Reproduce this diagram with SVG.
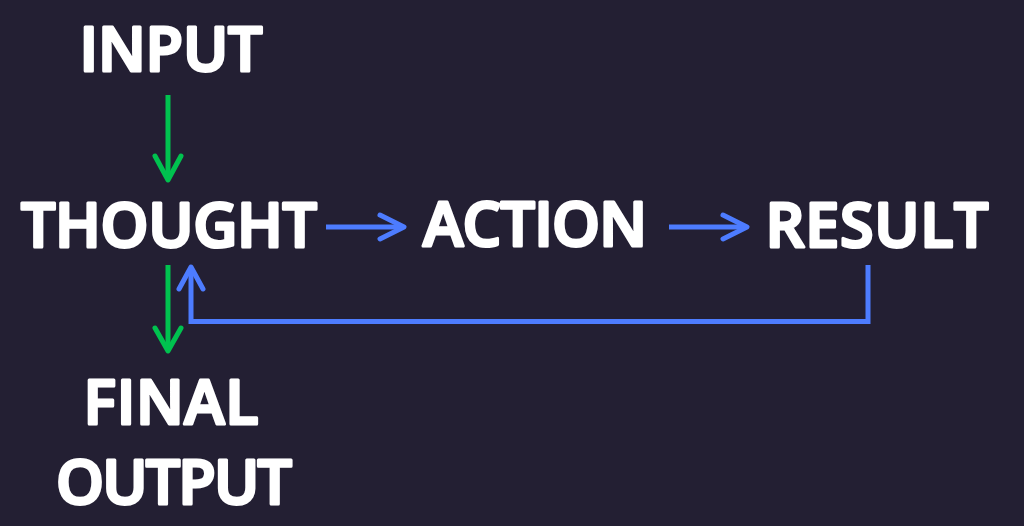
<svg xmlns="http://www.w3.org/2000/svg" width="1024" height="526" viewBox="0 0 1024 526">
<style>
.lbl{font-family:"Open Sans","DejaVu Sans",sans-serif;font-weight:600;font-size:61px;fill:#ffffff;stroke:#ffffff;stroke-width:3;stroke-linejoin:round;text-anchor:middle}
.g{stroke:#00c24f;stroke-width:5;fill:none}
.b{stroke:#4d7cff;stroke-width:5;fill:none}
.head{stroke-linecap:round;stroke-linejoin:round}
</style>
<rect width="1024" height="526" fill="#231f33"/>
<g id="connectors">
<g id="input-thought"><path class="g" d="M168,95 V178"/><path class="g head" d="M155,156 L168,180 L181,156"/></g>
<g id="thought-action"><path class="b" d="M326,227 H402"/><path class="b head" d="M380,215 L404,227 L380,239"/></g>
<g id="action-result"><path class="b" d="M669,227 H745"/><path class="b head" d="M723,215 L747,227 L723,239"/></g>
<g id="result-thought"><path class="b" d="M868,265 V321.5 H191 V269"/><path class="b head" d="M179,289 L191,267 L203,289"/></g>
<g id="thought-final"><path class="g" d="M168,265 V349"/><path class="g head" d="M155,328 L168,351 L181,328"/></g>
</g>
<g id="input"><text class="lbl" x="171" y="71" textLength="183" lengthAdjust="spacing">INPUT</text></g>
<g id="thought"><text class="lbl" x="169" y="247" textLength="296" lengthAdjust="spacing">THOUGHT</text></g>
<g id="action"><text class="lbl" x="535" y="246" textLength="224" lengthAdjust="spacing">ACTION</text></g>
<g id="result"><text class="lbl" x="877" y="247" textLength="223" lengthAdjust="spacing">RESULT</text></g>
<g id="final-output"><text class="lbl" x="171" y="424" textLength="175" lengthAdjust="spacing">FINAL</text><text class="lbl" x="174" y="504" textLength="236" lengthAdjust="spacing">OUTPUT</text></g>
</svg>
